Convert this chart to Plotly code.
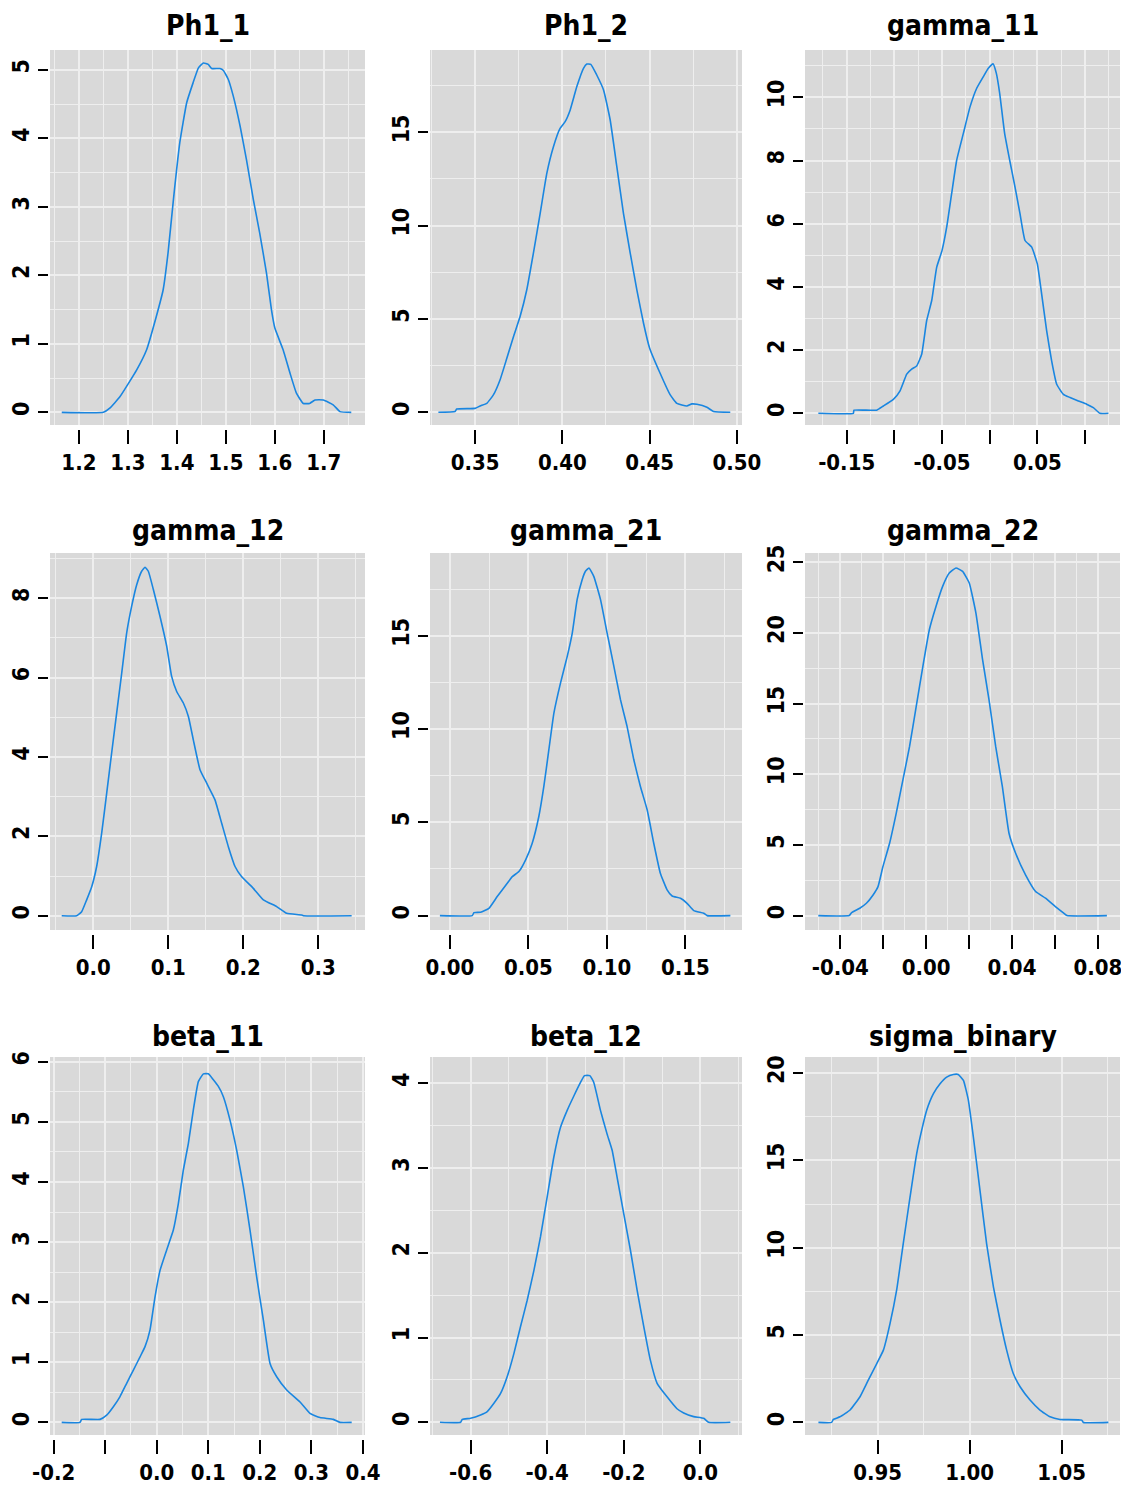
import plotly.graph_objects as go

W, H = 1129, 1495
OFF = 8  # page body margin of the html page

# ---------------- data ----------------
titles = ["Ph1_1", "Ph1_2", "gamma_11", "gamma_12", "gamma_21", "gamma_22",
          "beta_11", "beta_12", "sigma_binary"]

ph1_1_x = [1.165, 1.25, 1.263, 1.284, 1.318, 1.338, 1.358, 1.372, 1.382, 1.393, 1.406, 1.420,
           1.433, 1.444, 1.454, 1.464, 1.471, 1.488, 1.495, 1.505, 1.515, 1.529, 1.542, 1.556,
           1.569, 1.583, 1.593, 1.600, 1.617, 1.631, 1.644, 1.658, 1.671, 1.682, 1.699, 1.719,
           1.733, 1.756]
ph1_1_y = [0, 0, 0.06, 0.23, 0.62, 0.91, 1.40, 1.79, 2.33, 3.11, 3.94, 4.52,
           4.81, 5.03, 5.10, 5.08, 5.02, 5.02, 4.99, 4.86, 4.62, 4.18, 3.69, 3.11,
           2.62, 2.03, 1.50, 1.23, 0.91, 0.57, 0.28, 0.13, 0.13, 0.18, 0.18, 0.11,
           0.01, 0]

ph1_2_x = [0.329, 0.3385, 0.3395, 0.35, 0.3529, 0.3567, 0.3605, 0.3643, 0.3682, 0.372, 0.3758,
           0.3796, 0.3834, 0.3873, 0.3911, 0.3949, 0.3987, 0.4016, 0.4045, 0.4083, 0.4121, 0.414,
           0.4163, 0.4197, 0.4236, 0.4274, 0.4312, 0.435, 0.4389, 0.4427, 0.4465, 0.45, 0.456,
           0.4618, 0.4656, 0.4713, 0.4742, 0.4771, 0.4828, 0.4866, 0.4962]
ph1_2_y = [0, 0.04, 0.18, 0.21, 0.34, 0.48, 0.93, 1.73, 2.89, 4.05, 5.13,
           6.55, 8.52, 10.66, 12.80, 14.23, 15.21, 15.57, 16.20, 17.45, 18.43, 18.66,
           18.64, 18.07, 17.27, 15.66, 13.16, 10.66, 8.52, 6.55, 4.77, 3.43, 2.09,
           0.93, 0.48, 0.34, 0.45, 0.43, 0.27, 0.04, 0]

gamma_11_x = [-0.1797, -0.143, -0.1423, -0.1185, -0.1115, -0.101, -0.094, -0.087, -0.0818,
              -0.0766, -0.0713, -0.0661, -0.0608, -0.0556, -0.05, -0.0451, -0.0399, -0.0346,
              -0.0276, -0.0206, -0.0136, -0.0066, -0.0014, 0.0035, 0.007, 0.0105, 0.0157,
              0.021, 0.0266, 0.0318, 0.0371, 0.0441, 0.05, 0.0545, 0.0598, 0.065, 0.0703,
              0.0773, 0.0843, 0.093, 0.1017, 0.1087, 0.1157, 0.1245]
gamma_11_y = [0, 0, 0.10, 0.10, 0.23, 0.44, 0.71, 1.24, 1.40,
              1.50, 1.87, 2.93, 3.57, 4.62, 5.15, 5.89, 6.95, 8.01,
              8.86, 9.70, 10.29, 10.66, 10.92, 11.06, 10.76, 10.13, 8.86,
              8.01, 7.16, 6.32, 5.47, 5.26, 4.73, 3.78, 2.61, 1.66, 0.92,
              0.60, 0.50, 0.39, 0.29, 0.18, 0, 0]

gamma_12_x = [-0.0422, -0.0222, -0.0156, -0.0089, -0.0022, 0.0044, 0.0111, 0.0178, 0.0244,
              0.0311, 0.0378, 0.0444, 0.0511, 0.0578, 0.0644, 0.0689, 0.0733, 0.08, 0.0889,
              0.0978, 0.1044, 0.1111, 0.12, 0.1267, 0.1333, 0.1422, 0.1511, 0.1622, 0.1711,
              0.18, 0.1889, 0.1978, 0.2133, 0.2267, 0.2444, 0.2578, 0.2778, 0.28, 0.3444]
gamma_12_y = [0, 0, 0.10, 0.40, 0.73, 1.24, 2.08, 3.09, 4.10,
              5.11, 6.11, 7.12, 7.80, 8.34, 8.68, 8.78, 8.68, 8.22, 7.54,
              6.79, 6.03, 5.65, 5.36, 5.02, 4.43, 3.68, 3.34, 2.92, 2.33,
              1.74, 1.24, 0.98, 0.69, 0.40, 0.23, 0.06, 0.02, 0, 0]

gamma_21_x = [-0.0064, 0.0142, 0.0153, 0.0195, 0.0248, 0.0301, 0.0365, 0.0397, 0.0439, 0.0482,
              0.0524, 0.0566, 0.0598, 0.063, 0.0662, 0.0704, 0.0747, 0.0779, 0.081, 0.0842,
              0.0863, 0.0885, 0.0916, 0.0959, 0.1001, 0.1044, 0.1086, 0.1128, 0.1171, 0.1213,
              0.1256, 0.1298, 0.134, 0.1383, 0.1415, 0.1468, 0.151, 0.1553, 0.1616, 0.1638,
              0.1786]
gamma_21_y = [0, 0, 0.16, 0.18, 0.39, 1.02, 1.73, 2.09, 2.36, 2.99,
              3.88, 5.31, 6.92, 8.89, 10.85, 12.46, 13.89, 15.14, 16.93, 18.0,
              18.45, 18.63, 18.18, 16.93, 15.14, 13.36, 11.57, 10.14, 8.35, 6.92,
              5.67, 3.88, 2.27, 1.38, 1.05, 0.93, 0.66, 0.27, 0.13, 0,
              0]

gamma_22_x = [-0.0502, -0.0358, -0.0347, -0.0309, -0.0278, -0.0247, -0.0224, -0.0201, -0.017,
              -0.0139, -0.0108, -0.0077, -0.0046, -0.0015, 0.0015, 0.0046, 0.0077, 0.0108,
              0.0139, 0.017, 0.0201, 0.0232, 0.0263, 0.0293, 0.0324, 0.0355, 0.0386, 0.0417,
              0.0463, 0.051, 0.0556, 0.0602, 0.0641, 0.0656, 0.0842]
gamma_22_y = [0, 0, 0.21, 0.52, 0.87, 1.46, 2.05, 3.47, 5.12,
              7.25, 9.61, 11.97, 14.80, 17.64, 20.23, 21.88, 23.30, 24.24,
              24.60, 24.36, 23.54, 21.41, 18.11, 15.27, 11.97, 9.14, 5.83, 4.41,
              2.88, 1.70, 1.23, 0.64, 0.17, 0, 0]

beta_11_x = [-0.1842, -0.1487, -0.1454, -0.1099, -0.097, -0.084, -0.0711, -0.0582, -0.0452,
             -0.0323, -0.0226, -0.0129, -0.0032, 0.0065, 0.0194, 0.0323, 0.042, 0.0517, 0.0614,
             0.0711, 0.0808, 0.0905, 0.1002, 0.1099, 0.1196, 0.1293, 0.1422, 0.1551, 0.1681,
             0.181, 0.1939, 0.2069, 0.2198, 0.2327, 0.2521, 0.278, 0.2973, 0.3167, 0.3426,
             0.3555, 0.3782]
beta_11_y = [0, 0, 0.05, 0.05, 0.12, 0.26, 0.43, 0.65, 0.87,
             1.09, 1.26, 1.54, 2.09, 2.53, 2.87, 3.20, 3.64, 4.20, 4.64,
             5.20, 5.67, 5.80, 5.80, 5.70, 5.59, 5.42, 5.03, 4.53, 3.92,
             3.20, 2.42, 1.70, 0.98, 0.76, 0.54, 0.34, 0.15, 0.08, 0.05,
             0, 0]

beta_12_x = [-0.68, -0.626, -0.6217, -0.6, -0.5739, -0.5565, -0.5391, -0.5217, -0.5043, -0.487,
             -0.4696, -0.4522, -0.4348, -0.4174, -0.4, -0.3826, -0.3652, -0.3478, -0.3304,
             -0.313, -0.3026, -0.2887, -0.2783, -0.2609, -0.2435, -0.2304, -0.2174, -0.2,
             -0.1826, -0.1652, -0.1478, -0.1304, -0.113, -0.087, -0.061, -0.0435, -0.0174,
             0.0087, 0.0217, 0.0783]
beta_12_y = [0, 0, 0.035, 0.047, 0.086, 0.126, 0.224, 0.34, 0.54, 0.81,
             1.13, 1.44, 1.79, 2.19, 2.66, 3.13, 3.48, 3.68, 3.85,
             4.01, 4.09, 4.09, 4.01, 3.68, 3.40, 3.21, 2.89, 2.46,
             2.03, 1.56, 1.13, 0.73, 0.46, 0.30, 0.16, 0.11, 0.067,
             0.047, 0, 0]

sigma_binary_x = [0.9178, 0.925, 0.9259, 0.9295, 0.935, 0.9404, 0.9449, 0.9495, 0.9531, 0.9567,
                  0.9603, 0.9639, 0.9676, 0.9712, 0.9739, 0.9766, 0.9803, 0.9839, 0.9875, 0.9911,
                  0.9938, 0.9966, 0.9993, 1.002, 1.0056, 1.0092, 1.0129, 1.0165, 1.0201, 1.0237,
                  1.0274, 1.0328, 1.0382, 1.0437, 1.0491, 1.0609, 1.0618, 1.0754]
sigma_binary_y = [0, 0, 0.17, 0.32, 0.71, 1.47, 2.42, 3.37, 4.14, 5.66,
                  7.57, 10.24, 12.91, 15.39, 16.72, 17.86, 18.82, 19.39, 19.77, 19.92,
                  19.92, 19.58, 18.44, 16.34, 13.29, 10.24, 7.76, 5.85, 4.14, 2.80,
                  2.04, 1.28, 0.71, 0.32, 0.17, 0.13, 0, 0]

series_x = [ph1_1_x, ph1_2_x, gamma_11_x, gamma_12_x, gamma_21_x, gamma_22_x,
            beta_11_x, beta_12_x, sigma_binary_x]
series_y = [ph1_1_y, ph1_2_y, gamma_11_y, gamma_12_y, gamma_21_y, gamma_22_y,
            beta_11_y, beta_12_y, sigma_binary_y]

# tick values / labels
x_tickvals = [
    [1.2, 1.3, 1.4, 1.5, 1.6, 1.7],
    [0.35, 0.40, 0.45, 0.50],
    [-0.15, -0.10, -0.05, 0.0, 0.05, 0.10],
    [0.0, 0.1, 0.2, 0.3],
    [0.00, 0.05, 0.10, 0.15],
    [-0.04, -0.02, 0.0, 0.02, 0.04, 0.06, 0.08],
    [-0.2, -0.1, 0.0, 0.1, 0.2, 0.3, 0.4],
    [-0.6, -0.4, -0.2, 0.0],
    [0.95, 1.00, 1.05],
]
x_ticktext = [
    ["1.2", "1.3", "1.4", "1.5", "1.6", "1.7"],
    ["0.35", "0.40", "0.45", "0.50"],
    ["-0.15", "", "-0.05", "", "0.05", ""],
    ["0.0", "0.1", "0.2", "0.3"],
    ["0.00", "0.05", "0.10", "0.15"],
    ["-0.04", "", "0.00", "", "0.04", "", "0.08"],
    ["-0.2", "", "0.0", "0.1", "0.2", "0.3", "0.4"],
    ["-0.6", "-0.4", "-0.2", "0.0"],
    ["0.95", "1.00", "1.05"],
]
y_tickvals = [
    [0, 1, 2, 3, 4, 5],
    [0, 5, 10, 15],
    [0, 2, 4, 6, 8, 10],
    [0, 2, 4, 6, 8],
    [0, 5, 10, 15],
    [0, 5, 10, 15, 20, 25],
    [0, 1, 2, 3, 4, 5, 6],
    [0, 1, 2, 3, 4],
    [0, 5, 10, 15, 20],
]

# ---------------- axis configuration ----------------
x_ranges = [[1.141, 1.784], [0.3242, 0.5029], [-0.1937, 0.1367], [-0.0578, 0.3622],
            [-0.0127, 0.186], [-0.0564, 0.0903], [-0.2069, 0.404], [-0.706, 0.1087],
            [0.9105, 1.0817]]
y_ranges = [[-0.185, 5.29], [-0.68, 19.41], [-0.37, 11.5], [-0.36, 9.14], [-0.77, 19.43],
            [-1.02, 25.66], [-0.21, 6.08], [-0.15, 4.31], [-0.72, 20.92]]
x_minor = [0.05, 0.025, 0.025, 0.05, 0.025, 0.01, 0.05, 0.1, 0.025]
y_minor = [0.5, 2.5, 1, 1, 2.5, 2.5, 0.5, 0.5, 2.5]

# pixel boxes measured on the page (reference), converted to figure px by OFF
cols_px = [(50, 365), (430, 742), (805, 1120)]
rows_px = [(50, 425), (553, 930), (1057, 1435)]
title_y_px = [25, 530, 1036]

BG = "#D9D9D9"
GRID = "#EEEEEE"
LINE = "#1A86E0"
FONT = "DejaVu Sans Condensed, Liberation Sans Narrow, Arial Narrow, Liberation Sans, sans-serif"

fig = go.Figure()
layout = dict(
    width=W, height=H,
    margin=dict(l=0, r=0, t=0, b=0, autoexpand=False),
    paper_bgcolor="white",
    plot_bgcolor=BG,
    showlegend=False,
    annotations=[],
)


def fx(px):
    return (px - OFF) / W


def fy(py):
    return 1 - (py - OFF) / H


for i in range(9):
    r, c = divmod(i, 3)
    l, rr = cols_px[c]
    t, b = rows_px[r]
    n = "" if i == 0 else str(i + 1)
    xa = "x" + n
    ya = "y" + n

    fig.add_trace(go.Scatter(x=series_x[i], y=series_y[i], mode="lines",
                             line=dict(color=LINE, width=1.6, shape="spline", smoothing=0.4),
                             xaxis=xa, yaxis=ya, hoverinfo="skip"))

    layout["xaxis" + n] = dict(
        domain=[fx(l), fx(rr)], range=x_ranges[i],
        anchor="free", position=fy(b + 4),
        tickmode="array", tickvals=x_tickvals[i], ticktext=x_ticktext[i],
        ticks="outside", ticklen=14, tickwidth=1.6, tickcolor="black",
        showgrid=True, gridcolor=GRID, gridwidth=2.2,
        minor=dict(tick0=0, dtick=x_minor[i], showgrid=True, gridcolor=GRID, gridwidth=1, ticks=""),
        zeroline=False, showline=False, automargin=False,
        tickfont=dict(family=FONT, size=22, color="black", weight="bold"),
        fixedrange=True,
    )
    layout["yaxis" + n] = dict(
        domain=[fy(b), fy(t)], range=y_ranges[i],
        anchor="free", position=fx(l - 2),
        tickmode="array", tickvals=y_tickvals[i], ticktext=[str(v) for v in y_tickvals[i]],
        ticks="outside", ticklen=10, tickwidth=1.6, tickcolor="black",
        tickangle=-90,
        showgrid=True, gridcolor=GRID, gridwidth=2.2,
        minor=dict(tick0=0, dtick=y_minor[i], showgrid=True, gridcolor=GRID, gridwidth=1, ticks=""),
        zeroline=False, showline=False, automargin=False,
        tickfont=dict(family=FONT, size=23, color="black", weight="bold"),
        fixedrange=True,
    )
    layout["annotations"].append(dict(
        text=titles[i], xref="paper", yref="paper",
        x=fx((l + rr) / 2), y=fy(title_y_px[r]),
        xanchor="center", yanchor="middle", showarrow=False,
        font=dict(family=FONT, size=28, color="black", weight="bold"),
    ))

fig.update_layout(**layout)
fig.write_html("out.html")
